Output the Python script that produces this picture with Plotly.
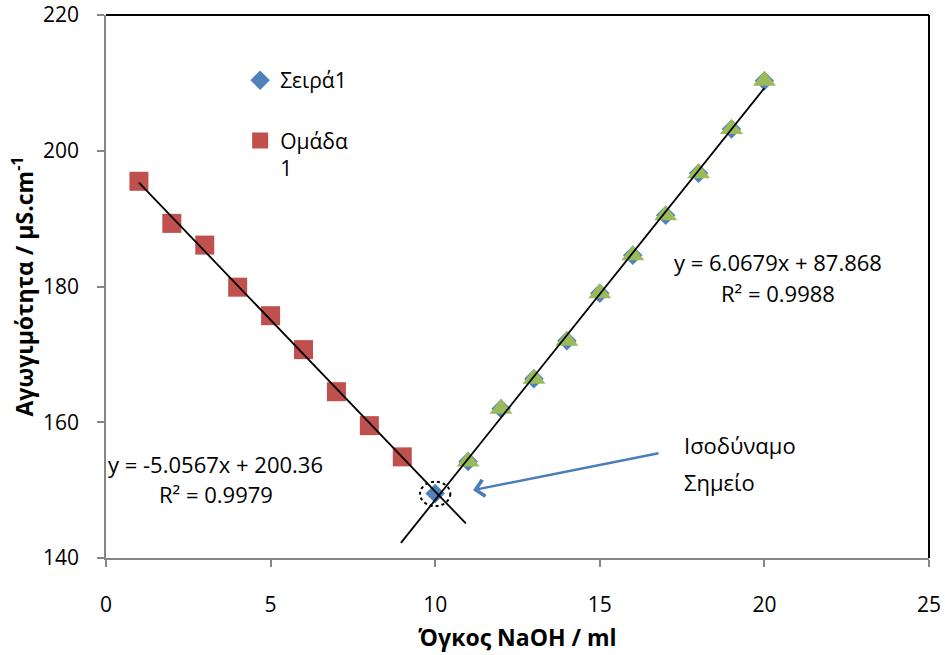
import plotly.graph_objects as go

# ---- data ----
x_group1 = [1, 2, 3, 4, 5, 6, 7, 8, 9]
y_group1 = [195.5, 189.3, 186.1, 179.9, 175.7, 170.7, 164.5, 159.5, 154.9]

x_series1 = [10, 11, 12, 13, 14, 15, 16, 17, 18, 19, 20]
y_series1 = [149.5, 154.2, 162.0, 166.4, 172.0, 179.0, 184.6, 190.5, 196.7, 203.2, 210.3]

x_series3 = [11, 12, 13, 14, 15, 16, 17, 18, 19, 20]
y_series3 = [154.2, 162.0, 166.4, 172.0, 179.0, 184.6, 190.5, 196.7, 203.2, 210.3]

# trendlines (Excel linear fits, with forecast)
left_slope, left_intercept = -5.0567, 200.36
left_trend_x = [1, 10.93]
right_slope, right_intercept = 6.0679, 87.868
right_trend_x = [8.96, 20]

x_ticks = [0, 5, 10, 15, 20, 25]
y_ticks = [140, 160, 180, 200, 220]

FONT = "Open Sans"
BLUE = "#4F81BD"
RED = "#C0504D"
GREEN = "#9BBB59"
AXIS = "#868686"

fig = go.Figure()

fig.add_trace(go.Scatter(
    x=x_series1, y=y_series1, mode="markers", name="Σειρά1",
    legendgroup="a",
    marker=dict(symbol="diamond", size=15, color=BLUE)))
fig.add_trace(go.Scatter(
    x=x_group1, y=y_group1, mode="markers", name="Ομάδα<br>1",
    legendgroup="b",
    marker=dict(symbol="square", size=19, color=RED)))
fig.add_trace(go.Scatter(
    x=x_series3, y=y_series3, mode="markers", showlegend=False,
    marker=dict(symbol="triangle-up", size=20, color=GREEN)))

fig.add_trace(go.Scatter(
    x=left_trend_x, y=[left_slope * v + left_intercept for v in left_trend_x],
    mode="lines", line=dict(color="black", width=1.8), showlegend=False))
fig.add_trace(go.Scatter(
    x=right_trend_x, y=[right_slope * v + right_intercept for v in right_trend_x],
    mode="lines", line=dict(color="black", width=1.8), showlegend=False))

tf = dict(family=FONT, size=22, color="black")

# trendline labels
fig.add_annotation(x=20.41, y=183.6, text="y = 6.0679x + 87.868", showarrow=False, font=tf)
fig.add_annotation(x=20.41, y=179.05, text="R² = 0.9988", showarrow=False, font=tf)
fig.add_annotation(x=3.34, y=153.85, text="y = -5.0567x + 200.36", showarrow=False, font=tf)
fig.add_annotation(x=3.34, y=149.4, text="R² = 0.9979", showarrow=False, font=tf)

# equivalence point label
fig.add_annotation(x=17.5, y=156.7, text="Ισοδύναμο", showarrow=False, font=tf, xanchor="left")
fig.add_annotation(x=17.5, y=151.25, text="Σημείο", showarrow=False, font=tf, xanchor="left")

# arrow
fig.add_annotation(x=11.15, y=150.0, ax=16.83, ay=155.47, axref="x", ayref="y",
                   xref="x", yref="y", text="", showarrow=True,
                   arrowhead=4, arrowsize=1.3, arrowwidth=2.5, arrowcolor="#4A7EBB")

# dotted ellipse around the equivalence point
fig.add_shape(type="circle", xref="x", yref="y",
              x0=10.0 - 0.46, x1=10.0 + 0.46, y0=149.45 - 1.8, y1=149.45 + 1.8,
              line=dict(color="black", width=2, dash="dot"))

# plot-area border top and right
fig.add_shape(type="line", xref="x domain", yref="y domain", x0=0, x1=1, y0=1, y1=1,
              line=dict(color="black", width=2), layer="above")
fig.add_shape(type="line", xref="x domain", yref="y domain", x0=1, x1=1, y0=0, y1=1,
              line=dict(color="black", width=2), layer="above")

fig.update_layout(
    width=945, height=655,
    margin=dict(l=106, r=16, t=15, b=97, autoexpand=False),
    plot_bgcolor="white", paper_bgcolor="white",
    font=dict(family=FONT, size=21, color="black"),
    showlegend=True,
    legend=dict(x=0.163, y=0.917, xanchor="left", yanchor="top",
                bgcolor="rgba(0,0,0,0)", font=dict(family=FONT, size=21),
                tracegroupgap=30, valign="top", traceorder="grouped"),
    xaxis=dict(range=[0, 25], tickvals=x_ticks, showgrid=False, zeroline=False,
               automargin=False, ticklabeloverflow="allow",
               showline=True, linecolor=AXIS, linewidth=1.5,
               ticks="outside", ticklen=7, tickcolor=AXIS, tickwidth=1.5,
               ticklabelstandoff=20,
               tickfont=dict(family=FONT, size=21),
               title=dict(text="<b>Όγκος NaOH / ml</b>", font=dict(family=FONT, size=23),
                          standoff=13)),
    yaxis=dict(range=[140, 220], tickvals=y_ticks, showgrid=False, zeroline=False,
               automargin=False, ticklabeloverflow="allow",
               showline=True, linecolor=AXIS, linewidth=1.5,
               ticks="outside", ticklen=7, tickcolor=AXIS, tickwidth=1.5,
               ticklabelstandoff=14,
               tickfont=dict(family=FONT, size=21),
               title=dict(text="<b>Αγωγιμότητα / μS.cm<sup>-1</sup></b>",
                          font=dict(family=FONT, size=23), standoff=3)),
)

fig.write_html("out.html", config={"displayModeBar": False},
               post_script="document.body.style.margin='0';document.body.style.overflow='hidden';")
